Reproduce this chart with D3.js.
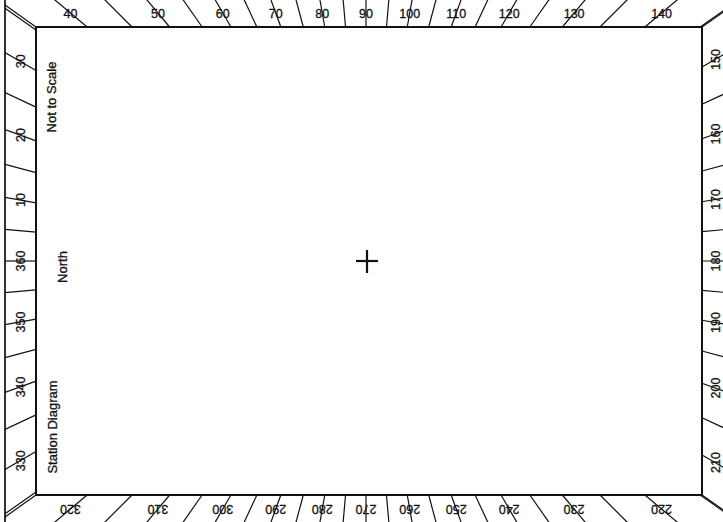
<!DOCTYPE html>
<html>
<head>
<meta charset="utf-8">
<script src="https://cdnjs.cloudflare.com/ajax/libs/d3/7.8.5/d3.min.js"></script>
<style>
  body { margin: 0; background: #fff; }
  svg { display: block; font-family: "Liberation Sans", Arial, sans-serif; }
</style>
</head>
<body>
<svg id="chart"></svg>
<script>
// bearings that carry a label, and their tick labels
var labelBearings = [0, 10, 20, 30, 40, 50, 60, 70, 80, 90, 100, 110, 120, 130, 140, 150, 160, 170,
                     180, 190, 200, 210, 220, 230, 240, 250, 260, 270, 280, 290, 300, 310, 320, 330, 340, 350];
var tickLabels = ["360", "10", "20", "30", "40", "50", "60", "70", "80", "90", "100", "110", "120", "130", "140", "150", "160", "170",
                  "180", "190", "200", "210", "220", "230", "240", "250", "260", "270", "280", "290", "300", "310", "320", "330", "340", "350"];
// unlabelled bearings in between
var minorBearings = [5, 15, 25, 35, 45, 55, 65, 75, 85, 95, 105, 115, 125, 135, 145, 155, 165, 175,
                     185, 195, 205, 215, 225, 235, 245, 255, 265, 275, 285, 295, 305, 315, 325, 335, 345, 355];
var notes = ["Not to Scale", "North", "Station Diagram"];

var width = 723, height = 522;

// drawing units: station at 0,0, y pointing up
var inner = { x0: -330, x1: 336, y0: -234, y1: 234 };
var outer = { x0: -361, x1: 370, y0: -272, y1: 272 };

var x = d3.scaleLinear().domain([-330, 336]).range([36, 702]);
var y = d3.scaleLinear().domain([234, -234]).range([27, 495]);

var svg = d3.select("#chart")
    .attr("width", width)
    .attr("height", height);

svg.append("rect")
    .attr("width", width)
    .attr("height", height)
    .attr("fill", "#fff");

// bearing 0 points left, 90 up, 180 right, 270 down
function dir(b) {
    var a = b * Math.PI / 180;
    return [-Math.cos(a), Math.sin(a)];
}

// distance along the ray to the edge of a box, plus which side
function hit(b, box) {
    var d = dir(b), best = Infinity, side = null;
    if (d[0] < -1e-9) { var t = box.x0 / d[0]; if (t < best) { best = t; side = "left"; } }
    if (d[0] > 1e-9) { var t2 = box.x1 / d[0]; if (t2 < best) { best = t2; side = "right"; } }
    if (d[1] > 1e-9) { var t3 = box.y1 / d[1]; if (t3 < best) { best = t3; side = "top"; } }
    if (d[1] < -1e-9) { var t4 = box.y0 / d[1]; if (t4 < best) { best = t4; side = "bottom"; } }
    return { t: best, side: side };
}

function ray(b) {
    var d = dir(b);
    var a = hit(b, inner).t, c = hit(b, outer).t;
    return [[x(d[0] * a), y(d[1] * a)], [x(d[0] * c), y(d[1] * c)]];
}

var band = svg.append("g").attr("clip-path", "url(#clip)");
svg.append("clipPath").attr("id", "clip")
    .append("rect")
    .attr("x", x(outer.x0)).attr("y", y(outer.y1))
    .attr("width", x(outer.x1) - x(outer.x0))
    .attr("height", y(outer.y0) - y(outer.y1));

// corner lines go through the inner corners
var corners = [[inner.x0, inner.y1], [inner.x1, inner.y1], [inner.x1, inner.y0], [inner.x0, inner.y0]];
var cornerBearings = corners.map(function(c) {
    var b = Math.atan2(c[1], -c[0]) * 180 / Math.PI;
    return b < 0 ? b + 360 : b;
});

var allLines = labelBearings.concat(minorBearings).concat(cornerBearings);

band.selectAll(".ray")
    .data(allLines)
    .enter().append("line")
    .attr("class", "ray")
    .attr("x1", function(b) { return ray(b)[0][0]; })
    .attr("y1", function(b) { return ray(b)[0][1]; })
    .attr("x2", function(b) { return ray(b)[1][0]; })
    .attr("y2", function(b) { return ray(b)[1][1]; })
    .attr("stroke", "#111")
    .attr("stroke-width", 1.2);

// outer frame, only its left side is inside the picture
svg.append("rect")
    .attr("x", x(outer.x0)).attr("y", y(outer.y1))
    .attr("width", x(outer.x1) - x(outer.x0))
    .attr("height", y(outer.y0) - y(outer.y1))
    .attr("fill", "none")
    .attr("stroke", "#111")
    .attr("stroke-width", 1.7);

svg.append("rect")
    .attr("x", x(inner.x0)).attr("y", y(inner.y1))
    .attr("width", x(inner.x1) - x(inner.x0))
    .attr("height", y(inner.y0) - y(inner.y1))
    .attr("fill", "none")
    .attr("stroke", "#111")
    .attr("stroke-width", 2);

// bearing labels sit in the band, on their line
var offset = { top: 14, bottom: 14, left: 16, right: 13 };
var rotation = { top: 0, bottom: 180, left: -90, right: -90 };

svg.selectAll(".bearing")
    .data(labelBearings)
    .enter().append("text")
    .attr("class", "bearing")
    .attr("transform", function(b) {
        var h = hit(b, inner), d = dir(b);
        var s = (h.side === "top" || h.side === "bottom") ? Math.abs(d[1]) : Math.abs(d[0]);
        var t = h.t + offset[h.side] / s;
        return "translate(" + x(d[0] * t) + "," + y(d[1] * t) + ") rotate(" + rotation[h.side] + ")";
    })
    .attr("text-anchor", "middle")
    .attr("dy", "0.36em")
    .attr("font-size", 12.5)
    .attr("fill", "#111")
    .attr("stroke", "#111")
    .attr("stroke-width", 0.3)
    .text(function(b, i) { return tickLabels[i]; });

// notes down the left inside edge
var notePos = [[51, 97], [62, 267], [52, 427]];
svg.selectAll(".note")
    .data(notes)
    .enter().append("text")
    .attr("class", "note")
    .attr("transform", function(d, i) {
        return "translate(" + notePos[i][0] + "," + notePos[i][1] + ") rotate(-90)";
    })
    .attr("text-anchor", "middle")
    .attr("dy", "0.36em")
    .attr("font-size", 13)
    .attr("fill", "#111")
    .attr("stroke", "#111")
    .attr("stroke-width", 0.3)
    .text(function(d) { return d; });

// station mark
var plus = svg.append("g")
    .attr("stroke", "#111")
    .attr("stroke-width", 2.2);
plus.append("line").attr("x1", x(-10)).attr("x2", x(12)).attr("y1", y(0)).attr("y2", y(0));
plus.append("line").attr("x1", x(1)).attr("x2", x(1)).attr("y1", y(11)).attr("y2", y(-12));
</script>
</body>
</html>
